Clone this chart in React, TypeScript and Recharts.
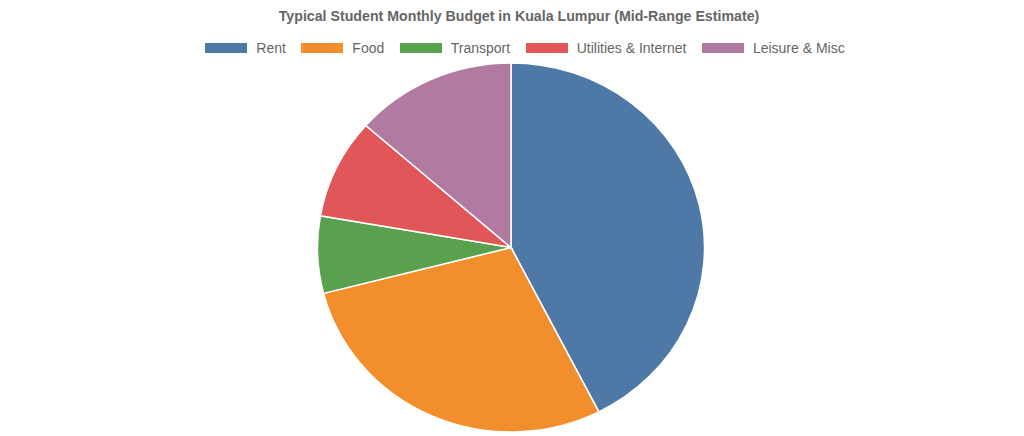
import React from 'react';
import { PieChart, Pie, Cell } from 'recharts';

const categories = ['Rent', 'Food', 'Transport', 'Utilities & Internet', 'Leisure & Misc'];
const amounts = [850, 570, 135, 175, 270];
const colors = ['#4e79a7', '#f28e2b', '#59a14f', '#e15759', '#b07aa1'];

const data = categories.map((name, i) => ({ name, value: amounts[i] }));

const font = '"Liberation Sans", Arial, sans-serif';

const LegendRow = () => (
  <div
    style={{
      position: 'absolute',
      top: 40,
      left: 13,
      width: 1024,
      display: 'flex',
      justifyContent: 'center',
      alignItems: 'center',
      fontFamily: font,
      fontSize: '14px',
      color: '#666',
    }}
  >
    {categories.map((name, i) => (
      <div key={name} style={{ display: 'flex', alignItems: 'center', marginRight: i < categories.length - 1 ? 15.5 : 0 }}>
        <span style={{ display: 'inline-block', width: 42, height: 10, background: colors[i], marginRight: 9 }} />
        <span>{name}</span>
      </div>
    ))}
  </div>
);

const App: React.FC = () => {
  return (
    <div style={{ position: 'absolute', left: 0, top: 0, width: 1024, height: 436, background: '#fff', overflow: 'hidden' }}>
      <div
        style={{
          position: 'absolute',
          top: 8,
          left: 7,
          width: 1024,
          textAlign: 'center',
          fontFamily: font,
          fontWeight: 'bold',
          fontSize: '14.2px',
          color: '#666',
        }}
      >
        Typical Student Monthly Budget in Kuala Lumpur (Mid-Range Estimate)
      </div>
      <LegendRow />
      {/* the reference is slightly stretched sideways */}
      <div style={{ position: 'absolute', left: 0, top: 0, transform: 'scale(1.049, 1)', transformOrigin: '511px 247.5px' }}>
        <PieChart width={1024} height={436} margin={{ top: 0, right: 0, bottom: 0, left: 0 }}>
          <Pie
            data={data}
            dataKey="value"
            nameKey="name"
            cx={511}
            cy={247.5}
            outerRadius={184.5}
            startAngle={90}
            endAngle={-270}
            stroke="#fff"
            strokeWidth={1.5}
            isAnimationActive={false}
          >
            {data.map((d, i) => (
              <Cell key={d.name} fill={colors[i]} />
            ))}
          </Pie>
        </PieChart>
      </div>
    </div>
  );
};

export default App;
